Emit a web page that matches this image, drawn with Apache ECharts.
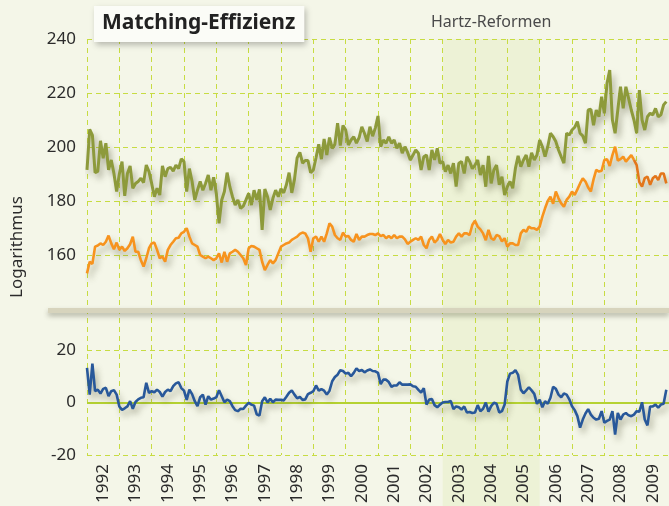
<!DOCTYPE html>
<html>
<head>
<meta charset="utf-8">
<title>Matching-Effizienz</title>
<script src="https://cdn.jsdelivr.net/npm/echarts@6/dist/echarts.min.js"></script>
<style>
  html, body { margin: 0; padding: 0; background: #f4f6e8; }
  #chart { width: 669px; height: 506px; }
</style>
</head>
<body>
<div id="chart"></div>
<script>
  // Jahre (Kategorien der x-Achse), Monatswerte ab Januar 1992
  const years = ['1992', '1993', '1994', '1995', '1996', '1997', '1998', '1999', '2000',
    '2001', '2002', '2003', '2004', '2005', '2006', '2007', '2008', '2009'];
  const startYear = 1992;
  const hartzFrom = 2003;
  const hartzTo = 2006;

  const upperTicks = [140, 240, 20];
  const lowerTicks = [-20, 20, 20];

  // oben, olivgrün
  const green = [
    191.5, 206.5, 204.4, 190.5, 191, 202.3, 195.8, 201.4, 191.5, 195.2, 190.2, 183.5,
    190, 194.6, 181.9, 190.2, 193, 184.7, 186.5, 187.2, 188.4, 186.8, 193.3, 190.9,
    186.5, 181.6, 184.7, 182.2, 193, 189, 192, 192.5, 191.1, 193.3, 192, 195.6,
    194.6, 183.5, 192, 187.2, 180.4, 184, 187.2, 184, 186.5, 189.6, 184, 188.8,
    182.8, 171.7, 180.4, 183.5, 190.5, 185.3, 181.6, 178.5, 180.4, 177.3, 178.1, 180.4,
    182.8, 178.5, 184, 180.4, 184.3, 169.3, 184.4, 181.6, 176.7, 181, 184, 181.6,
    184.5, 183, 186, 190.5, 183, 188, 196, 198, 194, 195, 195, 190.5,
    191.5, 196, 201, 195.5, 203, 197, 203.5, 199.5, 201, 208.8, 200.5, 208,
    206.3, 200.7, 202.6, 203.8, 201.4, 203.5, 207.5, 205, 202, 207.5, 204, 207,
    211.5, 200.1, 202.6, 201.4, 203.8, 201.4, 202.6, 199.5, 201.4, 197.7, 200.1, 198,
    195.2, 197, 198.9, 197.7, 191.5, 196.4, 197, 191.5, 198.9, 195.2, 199.5, 194,
    194.6, 190.9, 193.3, 190.2, 194, 185.3, 194, 194.6, 190.2, 196.4, 194.6, 192,
    193.3, 195.2, 189.6, 193.3, 185.3, 196.7, 186.5, 191.5, 193.3, 186, 189, 182.2,
    185.3, 187.2, 184.7, 192.1, 196.7, 192.7, 195.2, 197, 192.7, 197.9, 195.2, 197,
    202.6, 200.1, 196.4, 200.1, 205.1, 203.8, 202, 198.9, 196.4, 194, 205.1, 204.4,
    206.3, 207.3, 209.4, 205.1, 204.1, 201.4, 213.7, 214, 208.1, 213.7, 211.2, 218.6,
    212.5, 223.6, 228.5, 210, 205.1, 213.7, 222.3, 214.3, 222.3, 218, 213.7, 210,
    205.1, 221.1, 210, 206.3, 211.2, 212.5, 211.9, 214.3, 211.2, 211.9, 215.6, 216.8
  ];

  // oben, orange
  const orange = [
    153.2, 157.5, 156.7, 163.1, 163.5, 164.3, 163.7, 164.9, 167.2, 164.3, 162.1, 164.6,
    161.9, 163.1, 161.5, 162.5, 164, 166.8, 161.2, 161.2, 158.1, 155.7, 158.8, 162.5,
    164.3, 164.6, 161.9, 158.8, 159.4, 157.5, 161.9, 163.7, 164.9, 166.2, 166.4, 168,
    168.6, 169.9, 166.8, 164.3, 163.7, 163.1, 160, 159.4, 158.8, 159.4, 158.8, 158.1,
    158.8, 160.6, 157.2, 161.2, 157.5, 160.6, 161.2, 161.9, 161.2, 160, 158.8, 156.3,
    162.5, 163.3, 163.1, 162.5, 161.9, 157.5, 154.4, 156.3, 158.1, 156.9, 158.1, 160.6,
    163.1, 163.7, 164.3, 164.6, 165.6, 166.2, 166.8, 167.8, 168.3, 168, 166.2, 161.2,
    166.2, 166.8, 164.9, 166.8, 164.9, 168, 171.7, 170.5, 167.4, 166.2, 165.6, 168.3,
    166.8, 167, 165.6, 164.9, 167.8, 165.6, 166.8, 166.8, 167.4, 167.8, 167.8, 167.4,
    168, 167, 167.4, 166.2, 167, 166.2, 167.4, 166.2, 166.8, 166.8, 165.8, 164.1,
    164.9, 165.6, 166.2, 165.6, 166.8, 163.7, 162.5, 165.6, 166.8, 164.6, 165.6, 167.8,
    165.6, 164.1, 165.6, 164.6, 164.9, 166.8, 168, 166.8, 168, 168, 167.4, 171.1,
    172.7, 170.5, 169.5, 168, 165.5, 169.3, 166.2, 165.6, 167.4, 167, 165, 166.2,
    163.1, 164.3, 164.3, 163.7, 163.7, 168, 169.3, 168.6, 170.5, 169.9, 169.9, 169.3,
    170.5, 174.2, 177.3, 180, 181.6, 179, 183.5, 181, 179.1, 177.9, 180.4, 181.6,
    183.5, 182.2, 184.3, 186.5, 188.4, 187.2, 185, 183.5, 188, 191.5, 190.9, 191.2,
    195.2, 195.5, 193, 197, 200.1, 195, 195.5, 196.4, 194.6, 195.8, 197, 195.2,
    193.3, 187, 185.3, 188.5, 189, 186, 188.4, 189.3, 187.8, 190.2, 190.2, 186.5
  ];
  // ab hier ist die orange Linie dunkler gezeichnet
  const orangeDarkFrom = 2008 + 11 / 12;

  // unten, blau
  const blue = [
    13.2, 3, 14.8, 4.3, 4.9, 3.4, 5.2, 5.6, 2.4, 4.3, 4.7, 3,
    -1.5, -2.8, -2.2, -1.5, 0.5, -2.4, 0.2, 1.2, 1.8, 2, 7.5, 3.7,
    4.3, 3.9, 4.9, 4, 2.2, 4, 4.9, 4.3, 6.2, 7.3, 7.7, 5.5,
    4.5, 1, 4.9, 3.2, 0.5, -1.4, 2, 3, -0.8, 2.4, 1.1, 1.5,
    2, 4.7, 2.4, 0.1, 1.1, 0.5, -1.4, -2.9, -3.3, -2.4, -2.5, -1.2,
    -0.1, -0.8, -1.2, -4.5, -5, 0.5, 2, 0, 1.4, 0.1, 1.1, 1,
    1, 0.8, 2.2, 3.7, 4.6, 3, 1.6, 2.1, 1, 1.2, 3.2, 3.7,
    4.3, 6.5, 4.5, 5.1, 4.5, 3, 4.5, 8.1, 9.7, 10.6, 12.3, 12,
    11, 11.3, 10, 11.3, 13, 12, 12.4, 11.5, 12.2, 12.6, 12, 11.9,
    11.3, 7, 8.7, 8.7, 7.8, 6, 6.5, 6.5, 7.7, 6.8, 6.8, 6.8,
    6.9, 6.2, 6, 4.8, 3.8, 5.4, -0.8, 1.1, 1.3, -1, -1.8, -0.8,
    0, 0.2, 0.2, 0.6, -2.5, -1.5, -1.8, -2.7, -1.5, -3.8, -3.6, -4,
    -3.8, -1, -3.3, -2.4, 0, -3.5, -1.4, -0.1, -0.5, -3.8, -3.3, -0.8,
    8, 11, 11.3, 12.3, 10.5, 4.9, 3.5, 4.6, 5.8, 4.6, 3.3, -0.5,
    1.1, -1.8, 0.5, -0.5, 1.8, 6, 5.2, 3, 2, 3.4, 3, 1.2,
    -1.4, -2.9, -5.2, -9.6, -6.5, -4.2, -2.5, -4.6, -5.8, -6.5, -6.2, -3.3,
    -7.7, -7, -6.5, -3.3, -12.2, -4, -6.5, -4.6, -4, -4.9, -5.2, -4.6,
    -3.3, -3.5, 0.1, -6.5, -8.7, -1.5, -1.5, -0.8, -2, -0.8, -0.5, 4.9
  ];

  const gridColor = '#c7dc42';
  const labelFont = 'Noto Sans';
  const xMax = startYear + years.length;

  function monthly(vals) {
    return vals.map((v, i) => [startYear + i / 12, v]);
  }

  const orangeData = monthly(orange);
  const orangeLight = orangeData.filter(p => p[0] <= orangeDarkFrom);
  const orangeDark = orangeData.filter(p => p[0] >= orangeDarkFrom);

  const lineShadow = {
    shadowColor: 'rgba(70, 70, 40, 0.38)',
    shadowBlur: 6,
    shadowOffsetX: 3,
    shadowOffsetY: 5,
  };

  const dashed = {color: gridColor, type: [5, 4], width: 1};
  const tickLabel = {fontFamily: labelFont, fontSize: 17, color: '#2b2b2b'};

  const chart = echarts.init(document.getElementById('chart'));

  chart.setOption({
    backgroundColor: '#f4f6e8',
    animation: false,
    title: {
      text: 'Matching-Effizienz',
      left: 94,
      top: 6,
      padding: [7, 9, 8, 8],
      backgroundColor: '#fbfcf7',
      shadowColor: 'rgba(0, 0, 0, 0.25)',
      shadowBlur: 6,
      shadowOffsetX: 2,
      shadowOffsetY: 3,
      textStyle: {
        fontFamily: labelFont,
        fontSize: 21,
        fontWeight: 'bold',
        color: '#222',
      },
    },
    grid: [
      {left: 87, top: 39, width: 583, height: 270},
      {left: 87, top: 350, width: 583, height: 105},
      {left: 87, top: 39, width: 583, height: 416},
      {left: 87, top: 39, width: 583, height: 467},
    ],
    xAxis: [
      {gridIndex: 0, type: 'value', min: startYear, max: xMax, show: false},
      {gridIndex: 1, type: 'value', min: startYear, max: xMax, show: false},
      {
        gridIndex: 2,
        type: 'category',
        data: years,
        boundaryGap: true,
        z: 3,
        axisLine: {show: false},
        axisTick: {show: false},
        axisLabel: Object.assign({rotate: 90, margin: 9}, tickLabel),
        splitLine: {show: true, lineStyle: dashed},
      },
      {gridIndex: 3, type: 'value', min: startYear, max: xMax, show: false},
    ],
    yAxis: [
      {
        gridIndex: 0,
        type: 'value',
        min: upperTicks[0],
        max: upperTicks[1],
        interval: upperTicks[2],
        z: 3,
        axisLine: {show: false},
        axisTick: {show: false},
        axisLabel: Object.assign({
          margin: 11,
          formatter: v => (v === upperTicks[0] ? '' : v),
        }, tickLabel),
        splitLine: {lineStyle: dashed},
      },
      {
        gridIndex: 1,
        type: 'value',
        min: lowerTicks[0],
        max: lowerTicks[1],
        interval: lowerTicks[2],
        z: 3,
        axisLine: {show: false},
        axisTick: {show: false},
        axisLabel: Object.assign({margin: 11}, tickLabel),
        splitLine: {lineStyle: dashed},
      },
      {
        gridIndex: 2,
        type: 'value',
        min: 0,
        max: 1,
        z: 3,
        name: 'Logarithmus',
        nameLocation: 'middle',
        nameGap: 61,
        nameTextStyle: tickLabel,
        axisLine: {show: false},
        axisTick: {show: false},
        axisLabel: {show: false},
        splitLine: {show: false},
      },
      {gridIndex: 3, type: 'value', min: 0, max: 1, show: false},
    ],
    graphic: [
      {
        // Trennbalken zwischen den beiden Panels
        type: 'rect',
        left: 48,
        top: 308,
        shape: {width: 621, height: 5},
        style: {
          fill: '#d7d4bd',
          shadowColor: 'rgba(60, 60, 40, 0.35)',
          shadowBlur: 5,
          shadowOffsetY: 3,
        },
        z: 10,
      },
    ],
    series: [
      {
        name: 'Hartz',
        type: 'line',
        xAxisIndex: 3,
        yAxisIndex: 3,
        data: [],
        z: 1,
        silent: true,
        markArea: {
          silent: true,
          itemStyle: {color: '#edf2d6'},
          label: {
            show: true,
            position: 'top',
            distance: 9,
            fontFamily: labelFont,
            fontSize: 16,
            color: '#4a4a4a',
          },
          data: [[{name: 'Hartz-Reformen', xAxis: hartzFrom}, {xAxis: hartzTo}]],
        },
      },
      {
        name: 'Matching-Effizienz',
        type: 'line',
        xAxisIndex: 0,
        yAxisIndex: 0,
        data: monthly(green),
        showSymbol: false,
        color: '#8d9a3b',
        lineStyle: Object.assign({width: 3, color: '#8d9a3b'}, lineShadow),
        z: 5,
      },
      {
        name: 'orange',
        type: 'line',
        xAxisIndex: 0,
        yAxisIndex: 0,
        data: orangeLight,
        showSymbol: false,
        color: '#f7931e',
        lineStyle: Object.assign({width: 2.6, color: '#f7931e'}, lineShadow),
        z: 6,
      },
      {
        name: 'orange spät',
        type: 'line',
        xAxisIndex: 0,
        yAxisIndex: 0,
        data: orangeDark,
        showSymbol: false,
        color: '#e3761b',
        lineStyle: Object.assign({width: 2.6, color: '#e3761b'}, lineShadow),
        z: 6,
      },
      {
        name: 'Differenz',
        type: 'line',
        xAxisIndex: 1,
        yAxisIndex: 1,
        data: monthly(blue),
        showSymbol: false,
        color: '#28589a',
        lineStyle: Object.assign({width: 2.6, color: '#28589a'}, lineShadow),
        z: 5,
        markLine: {
          silent: true,
          symbol: 'none',
          label: {show: false},
          lineStyle: {color: '#b5d232', type: 'solid', width: 2, shadowBlur: 0},
          data: [{yAxis: 0}],
        },
      },
    ],
  });
</script>
</body>
</html>
